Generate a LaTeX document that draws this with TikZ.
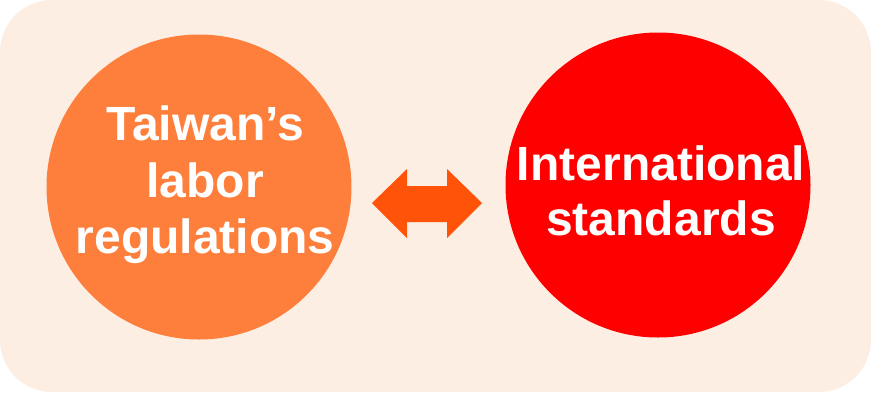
\documentclass[tikz,border=0pt]{standalone}
\usepackage{fontspec}
\setmainfont{Liberation Sans}
\definecolor{bgpeach}{HTML}{FDEEE4}
\definecolor{circorange}{HTML}{FE7F3C}
\definecolor{circred}{HTML}{FF0000}
\definecolor{arroworange}{HTML}{FF530A}
\begin{document}
\begin{tikzpicture}[x=1pt,y=-1pt,
  bubble/.style={circle,inner sep=0pt,minimum size=305pt},
  lbl/.style={text=white,font=\fontsize{48}{57}\selectfont\bfseries,inner sep=0pt,anchor=base}]
\useasboundingbox (0,0) rectangle (871,392);
\fill[white] (0,0) rectangle (871,392);
\fill[bgpeach,rounded corners=52pt] (0,0) rectangle (871,392);
\node[bubble,fill=circorange] (left) at (199,187) {};
\node[bubble,fill=circred] (right) at (658,185) {};
\node[lbl] (l1) at (205,140) {Taiwan’s};
\node[lbl] (l2) at (205,197) {labor};
\node[lbl] (l3) at (205,253) {regulations};
\node[lbl] (r1) at (661,180) {International};
\node[lbl] (r2) at (661,235) {standards};
\coordinate (ltip) at (372,203);
\coordinate (rtip) at (482,203);
\fill[arroworange] (ltip) -- (407,169) -- (407,186) -- (447,186) -- (447,169) -- (rtip)
  -- (447,238) -- (447,222) -- (407,222) -- (407,238) -- cycle;
\end{tikzpicture}
\end{document}
